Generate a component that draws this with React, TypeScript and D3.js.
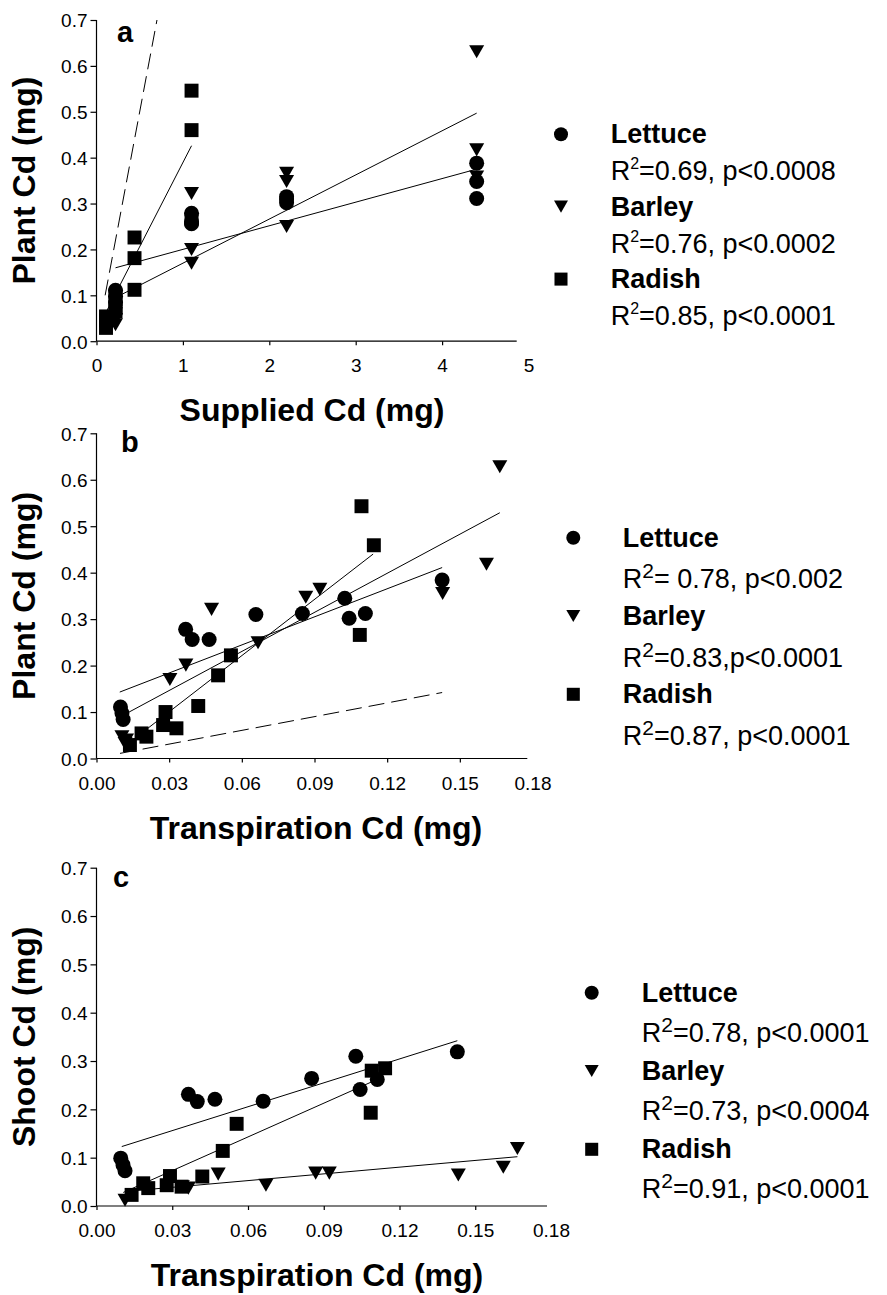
import { useEffect, useRef } from "react";
import * as d3 from "d3";

const W = 887;
const H = 1295;
const FONT = "Arial, 'Liberation Sans', Helvetica, sans-serif";

// ---- panel a: supplied Cd vs plant Cd ----
const aLettuceX = [0.22, 0.22, 0.22, 1.1, 1.1, 1.1, 2.2, 2.2, 2.2, 4.4, 4.4, 4.4];
const aLettuceY = [0.111, 0.098, 0.084, 0.279, 0.260, 0.256, 0.315, 0.302, 0.310, 0.388, 0.348, 0.311];
const aBarleyX = [0.22, 0.22, 0.22, 1.1, 1.1, 1.1, 2.2, 2.2, 2.2, 4.4, 4.4, 4.4];
const aBarleyY = [0.060, 0.047, 0.036, 0.322, 0.200, 0.170, 0.366, 0.348, 0.250, 0.631, 0.417, 0.358];
const aRadishX = [0.11, 0.11, 0.11, 0.22, 0.22, 0.22, 0.44, 0.44, 0.44, 1.1, 1.1, 1.1];
const aRadishY = [0.054, 0.045, 0.029, 0.100, 0.072, 0.065, 0.226, 0.181, 0.112, 0.546, 0.460, 0.266];
// fitted lines (end points)
const aFitLettuce = [[0.22, 0.16], [4.4, 0.375]];
const aFitBarley = [[0.22, 0.095], [4.4, 0.497]];
const aFitRadish = [[0.11, 0.063], [1.1, 0.426]];
const aOneToOne = [[0.1, 0.1], [0.7, 0.7]];

// ---- panel b: transpiration Cd vs plant Cd ----
const bLettuceX = [0.0099, 0.0105, 0.011, 0.0368, 0.0395, 0.0465, 0.0658, 0.085, 0.1025, 0.1043, 0.111, 0.1427];
const bLettuceY = [0.111, 0.098, 0.084, 0.278, 0.256, 0.256, 0.310, 0.312, 0.345, 0.302, 0.312, 0.384];
const bBarleyX = [0.0105, 0.0124, 0.0118, 0.0303, 0.0369, 0.0475, 0.0667, 0.0864, 0.0922, 0.1429, 0.161, 0.1665];
const bBarleyY = [0.047, 0.040, 0.032, 0.170, 0.201, 0.321, 0.249, 0.347, 0.364, 0.355, 0.418, 0.628];
const bRadishX = [0.0138, 0.0186, 0.0206, 0.0275, 0.0285, 0.033, 0.042, 0.0502, 0.0555, 0.1087, 0.1094, 0.1145];
const bRadishY = [0.029, 0.054, 0.047, 0.072, 0.100, 0.065, 0.113, 0.179, 0.222, 0.266, 0.543, 0.459];
const bFitLettuce = [[0.0096, 0.143], [0.1427, 0.411]];
const bFitBarley = [[0.0124, 0.097], [0.1665, 0.529]];
const bFitRadish = [[0.013, 0.032], [0.1142, 0.44]];
const bDashed = [[0.0097, 0.011], [0.1427, 0.142]];

// ---- panel c: transpiration Cd vs shoot Cd ----
const cLettuceX = [0.0096, 0.0105, 0.0113, 0.0364, 0.0399, 0.0469, 0.066, 0.0852, 0.1027, 0.1044, 0.1112, 0.1429];
const cLettuceY = [0.099, 0.085, 0.073, 0.231, 0.216, 0.221, 0.217, 0.264, 0.310, 0.241, 0.262, 0.319];
const cBarleyX = [0.0113, 0.034, 0.0364, 0.0482, 0.0671, 0.0868, 0.0922, 0.1433, 0.1611, 0.1667];
const cBarleyY = [0.012, 0.040, 0.037, 0.066, 0.043, 0.068, 0.068, 0.064, 0.080, 0.119];
const cRadishX = [0.0139, 0.0185, 0.0205, 0.0278, 0.0291, 0.0337, 0.0419, 0.05, 0.0555, 0.1086, 0.109, 0.1143];
const cRadishY = [0.023, 0.047, 0.037, 0.043, 0.062, 0.040, 0.061, 0.114, 0.170, 0.193, 0.280, 0.285];
const cFitLettuce = [[0.010, 0.123], [0.1429, 0.342]];
const cFitBarley = [[0.0113, 0.03], [0.1667, 0.102]];
const cFitRadish = [[0.0106, 0.028], [0.1112, 0.262]];

const yTicks = [0, 0.1, 0.2, 0.3, 0.4, 0.5, 0.6, 0.7];
const xTicksSupply = [0, 1, 2, 3, 4, 5];
const xTicksTransp = [0, 0.03, 0.06, 0.09, 0.12, 0.15, 0.18];

const species = ["Lettuce", "Barley", "Radish"];
const shapes = ["circle", "triangle", "square"];
const statsA = ["=0.69, p<0.0008", "=0.76, p<0.0002", "=0.85, p<0.0001"];
const statsB = ["= 0.78, p<0.002", "=0.83,p<0.0001", "=0.87, p<0.0001"];
const statsC = ["=0.78, p<0.0001", "=0.73, p<0.0004", "=0.91, p<0.0001"];

const panels = [
  {
    label: "a", labelX: 117, labelY: 42,
    left: 96.5, right: 528.5, top: 20, bottom: 341.2, axisEnd: 516.7,
    xMax: 5, xTicks: xTicksSupply, xFmt: d3.format("d"),
    xTitle: "Supplied Cd (mg)", xTitleX: 312, yTitle: "Plant Cd (mg)",
    series: [[aLettuceX, aLettuceY], [aBarleyX, aBarleyY], [aRadishX, aRadishY]],
    fits: [aFitLettuce, aFitBarley, aFitRadish], dashed: aOneToOne,
    legend: { mx: 561, tx: 610.7, y0: 143.3, step: 72.4, gap: 37, stats: statsA, small: true },
  },
  {
    label: "b", labelX: 121, labelY: 451.7,
    left: 96.5, right: 532.5, top: 433.3, bottom: 758.5, axisEnd: 527.3,
    xMax: 0.18, xTicks: xTicksTransp, xFmt: d3.format(".2f"),
    xTitle: "Transpiration Cd (mg)", xTitleX: 316, yTitle: "Plant Cd (mg)",
    series: [[bLettuceX, bLettuceY], [bBarleyX, bBarleyY], [bRadishX, bRadishY]],
    fits: [bFitLettuce, bFitBarley, bFitRadish], dashed: bDashed,
    legend: { mx: 573.3, tx: 622.7, y0: 546.7, step: 78.3, gap: 41.7, stats: statsB, small: false },
  },
  {
    label: "c", labelX: 113, labelY: 886.7,
    left: 96.5, right: 551, top: 867.7, bottom: 1206, axisEnd: 547,
    xMax: 0.18, xTicks: xTicksTransp, xFmt: d3.format(".2f"),
    xTitle: "Transpiration Cd (mg)", xTitleX: 317, yTitle: "Shoot Cd (mg)",
    series: [[cLettuceX, cLettuceY], [cBarleyX, cBarleyY], [cRadishX, cRadishY]],
    fits: [cFitLettuce, cFitBarley, cFitRadish], dashed: null,
    legend: { mx: 591.7, tx: 641.7, y0: 1001.7, step: 78.3, gap: 40, stats: statsC, small: false },
  },
];

// draws a marker centred on (cx, cy)
function marker(g: any, shape: string, cx: number, cy: number, s: number) {
  if (shape === "circle") {
    g.append("circle").attr("cx", cx).attr("cy", cy).attr("r", s / 2).attr("fill", "#000");
  } else if (shape === "square") {
    const w = s * 0.93;
    g.append("rect").attr("x", cx - w / 2).attr("y", cy - w / 2).attr("width", w).attr("height", w).attr("fill", "#000");
  } else {
    const h = s * 0.87;
    g.append("path")
      .attr("d", `M${cx - s / 2},${cy - h / 2}L${cx + s / 2},${cy - h / 2}L${cx},${cy + h / 2}Z`)
      .attr("fill", "#000");
  }
}

export default function App() {
  const svgRef = useRef<SVGSVGElement | null>(null);

  useEffect(() => {
    if (!svgRef.current) return;
    const svg = d3.select(svgRef.current);
    svg.selectAll("*").remove();

    panels.forEach((p) => {
      const g = svg.append("g");
      const x = d3.scaleLinear().domain([0, p.xMax]).range([p.left, p.right]);
      const y = d3.scaleLinear().domain([0, 0.7]).range([p.bottom, p.top]);

      // y axis
      const ya = g.append("g").attr("transform", `translate(${p.left},0)`)
        .call(d3.axisLeft(y).tickValues(yTicks).tickFormat(d3.format(".1f")).tickSize(6).tickPadding(3).tickSizeOuter(0));
      ya.select(".domain").remove();
      ya.selectAll("line").attr("stroke", "#000").attr("stroke-width", 1.2);
      ya.selectAll("text").attr("font-family", FONT).attr("font-size", 19).attr("fill", "#000").attr("dy", "0.36em");
      g.append("line").attr("x1", p.left).attr("x2", p.left).attr("y1", p.top).attr("y2", p.bottom)
        .attr("stroke", "#000").attr("stroke-width", 1.2);

      // x axis
      const xa = g.append("g").attr("transform", `translate(0,${p.bottom})`)
        .call(d3.axisBottom(x).tickValues(p.xTicks).tickFormat(p.xFmt as any).tickSize(4).tickSizeOuter(0));
      xa.select(".domain").remove();
      xa.selectAll("line").attr("stroke", "#000").attr("stroke-width", 1.2);
      xa.selectAll(".tick").filter((d: any) => d === p.xMax).select("line").remove();
      xa.selectAll("text").attr("font-family", FONT).attr("font-size", 19).attr("fill", "#000")
        .attr("y", 31).attr("dy", 0);
      g.append("line").attr("x1", p.left).attr("x2", p.axisEnd).attr("y1", p.bottom).attr("y2", p.bottom)
        .attr("stroke", "#000").attr("stroke-width", 1.2);

      // axis titles
      g.append("text").attr("x", p.xTitleX).attr("y", p.bottom + 80)
        .attr("text-anchor", "middle").attr("font-family", FONT).attr("font-weight", "bold")
        .attr("font-size", 32).text(p.xTitle);
      g.append("text").attr("transform", `translate(35,${(p.top + p.bottom) / 2}) rotate(-90)`)
        .attr("text-anchor", "middle").attr("font-family", FONT).attr("font-weight", "bold")
        .attr("font-size", 32).text(p.yTitle);
      g.append("text").attr("x", p.labelX).attr("y", p.labelY).attr("font-family", FONT)
        .attr("font-weight", "bold").attr("font-size", 29).text(p.label);

      // fitted lines
      const line = d3.line<number[]>().x((d) => x(d[0])).y((d) => y(d[1]));
      p.fits.forEach((f) => {
        g.append("path").attr("d", line(f)).attr("fill", "none").attr("stroke", "#000").attr("stroke-width", 1);
      });
      if (p.dashed) {
        g.append("path").attr("d", line(p.dashed)).attr("fill", "none").attr("stroke", "#000")
          .attr("stroke-width", 1).attr("stroke-dasharray", "16,7");
      }

      // points
      p.series.forEach(([xs, ys], i) => {
        xs.forEach((v, j) => marker(g, shapes[i], x(v), y(ys[j]), 15));
      });

      // legend
      const L = p.legend;
      species.forEach((name, i) => {
        const by = L.y0 + i * L.step;
        marker(g, shapes[i], L.mx, by - 9, 14);
        g.append("text").attr("x", L.tx).attr("y", by).attr("font-family", FONT)
          .attr("font-weight", "bold").attr("font-size", 27).text(name);
        const t = g.append("text").attr("x", L.tx).attr("y", by + L.gap).attr("font-family", FONT)
          .attr("font-size", 27);
        t.append("tspan").text("R");
        t.append("tspan").attr("font-size", L.small ? 16 : 21).attr("dy", L.small ? -11 : -10).text("2");
        t.append("tspan").attr("dy", L.small ? 11 : 10).text(L.stats[i]);
      });
    });
  }, []);

  return (
    <svg
      ref={svgRef}
      width={W}
      height={H}
      style={{ position: "absolute", left: 0, top: 0, background: "#fff", display: "block" }}
    />
  );
}
